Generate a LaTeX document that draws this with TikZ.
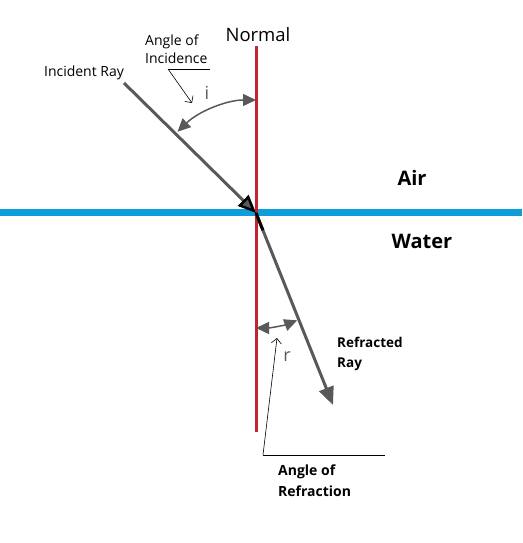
\documentclass[tikz,border=0pt]{standalone}
\usepackage{fontspec}
\setmainfont{Open Sans}
\usetikzlibrary{arrows.meta,calc}
\definecolor{normalred}{HTML}{C0272D}
\definecolor{surfaceblue}{HTML}{0C9DDA}
\definecolor{raygray}{HTML}{595959}
\tikzstyle{ray}=[raygray,line width=3pt]
\tikzstyle{angarrow}=[raygray,line width=1.5pt,{Triangle[length=13pt,width=12pt]}-{Triangle[length=13pt,width=12pt]}]
\tikzstyle{pointer}=[black,line width=0.6pt]
\tikzstyle{note}=[font=\fontsize{14}{18}\selectfont,align=left,inner sep=0pt]
\tikzstyle{boldnote}=[font=\bfseries\fontsize{13.5}{20}\selectfont,align=left,inner sep=0pt]
\tikzset{>=latex}

\begin{document}
\begin{tikzpicture}[x=1pt,y=1pt]
      \useasboundingbox (0,0) rectangle (522,543);
      \coordinate (O) at (256,330);
      \coordinate (nt) at (256,497);
      \coordinate (nb) at (256,111);
      \coordinate (wl) at (0,330);
      \coordinate (wr) at (522,330);
      \coordinate (inc) at (124,460);
      \coordinate (refr) at (333,138);
      \coordinate (ia) at ($(O)+(134:113)$);
      \coordinate (ra) at ($(O)+(-90:115)$);
      \coordinate (ul) at (168,474);
      \coordinate (ur) at (210,474);
      \coordinate (itip) at (192,440);
      \coordinate (fl) at (263,88);
      \coordinate (fr) at (385,88);
      \coordinate (rtip) at (277,205);
      % surface and normal
      \draw[surfaceblue,line width=7pt] (wl) -- (wr);
      \draw[normalred,line width=3pt] (nb) -- (nt);
      % rays
      \draw[ray,-{Triangle[length=18pt,width=15pt,fill=raygray,color=black,line width=2.5pt]}] (inc) -- (O);
      \draw[ray,-{Triangle[length=18pt,width=15pt]}] (O) -- (refr);
      \draw[black,line width=3pt] (O) -- ($(O)!0.09!(refr)$);
      % angles
      \draw[angarrow] (ia) arc[start angle=134,end angle=90,radius=113];
      \draw[angarrow] (ra) arc[start angle=-90,end angle=-69,radius=115];
      \node[raygray,font=\fontsize{18}{20}\selectfont] (ilab) at (207,450) {i};
      \node[raygray,font=\fontsize{18}{20}\selectfont] (rlab) at (287,186) {r};
      % labels
      \node[font=\fontsize{18.5}{20}\selectfont] (normal) at (258,508) {Normal};
      \node[note] (incray) at (84,470) {Incident Ray};
      \node[note,anchor=west] (angi) at (145,494) {Angle of\\Incidence};
      \node[font=\bfseries\fontsize{20}{24}\selectfont] (air) at (412,365) {Air};
      \node[font=\bfseries\fontsize{20}{24}\selectfont] (water) at (422,302) {Water};
      \node[boldnote,anchor=west] (refray) at (337,189) {Refracted\\Ray};
      \node[boldnote,font=\bfseries\fontsize{14}{21}\selectfont,anchor=west] (angr) at (278,62) {Angle of\\Refraction};
      % pointers
      \draw[pointer] (ul) -- (ur);
      \draw[pointer,-{Straight Barb[length=5pt]}] (ul) -- (itip);
      \draw[pointer] (fl) -- (fr);
      \draw[pointer,-{Straight Barb[length=5pt]}] (fl) -- (rtip);
    \end{tikzpicture}
\end{document}
